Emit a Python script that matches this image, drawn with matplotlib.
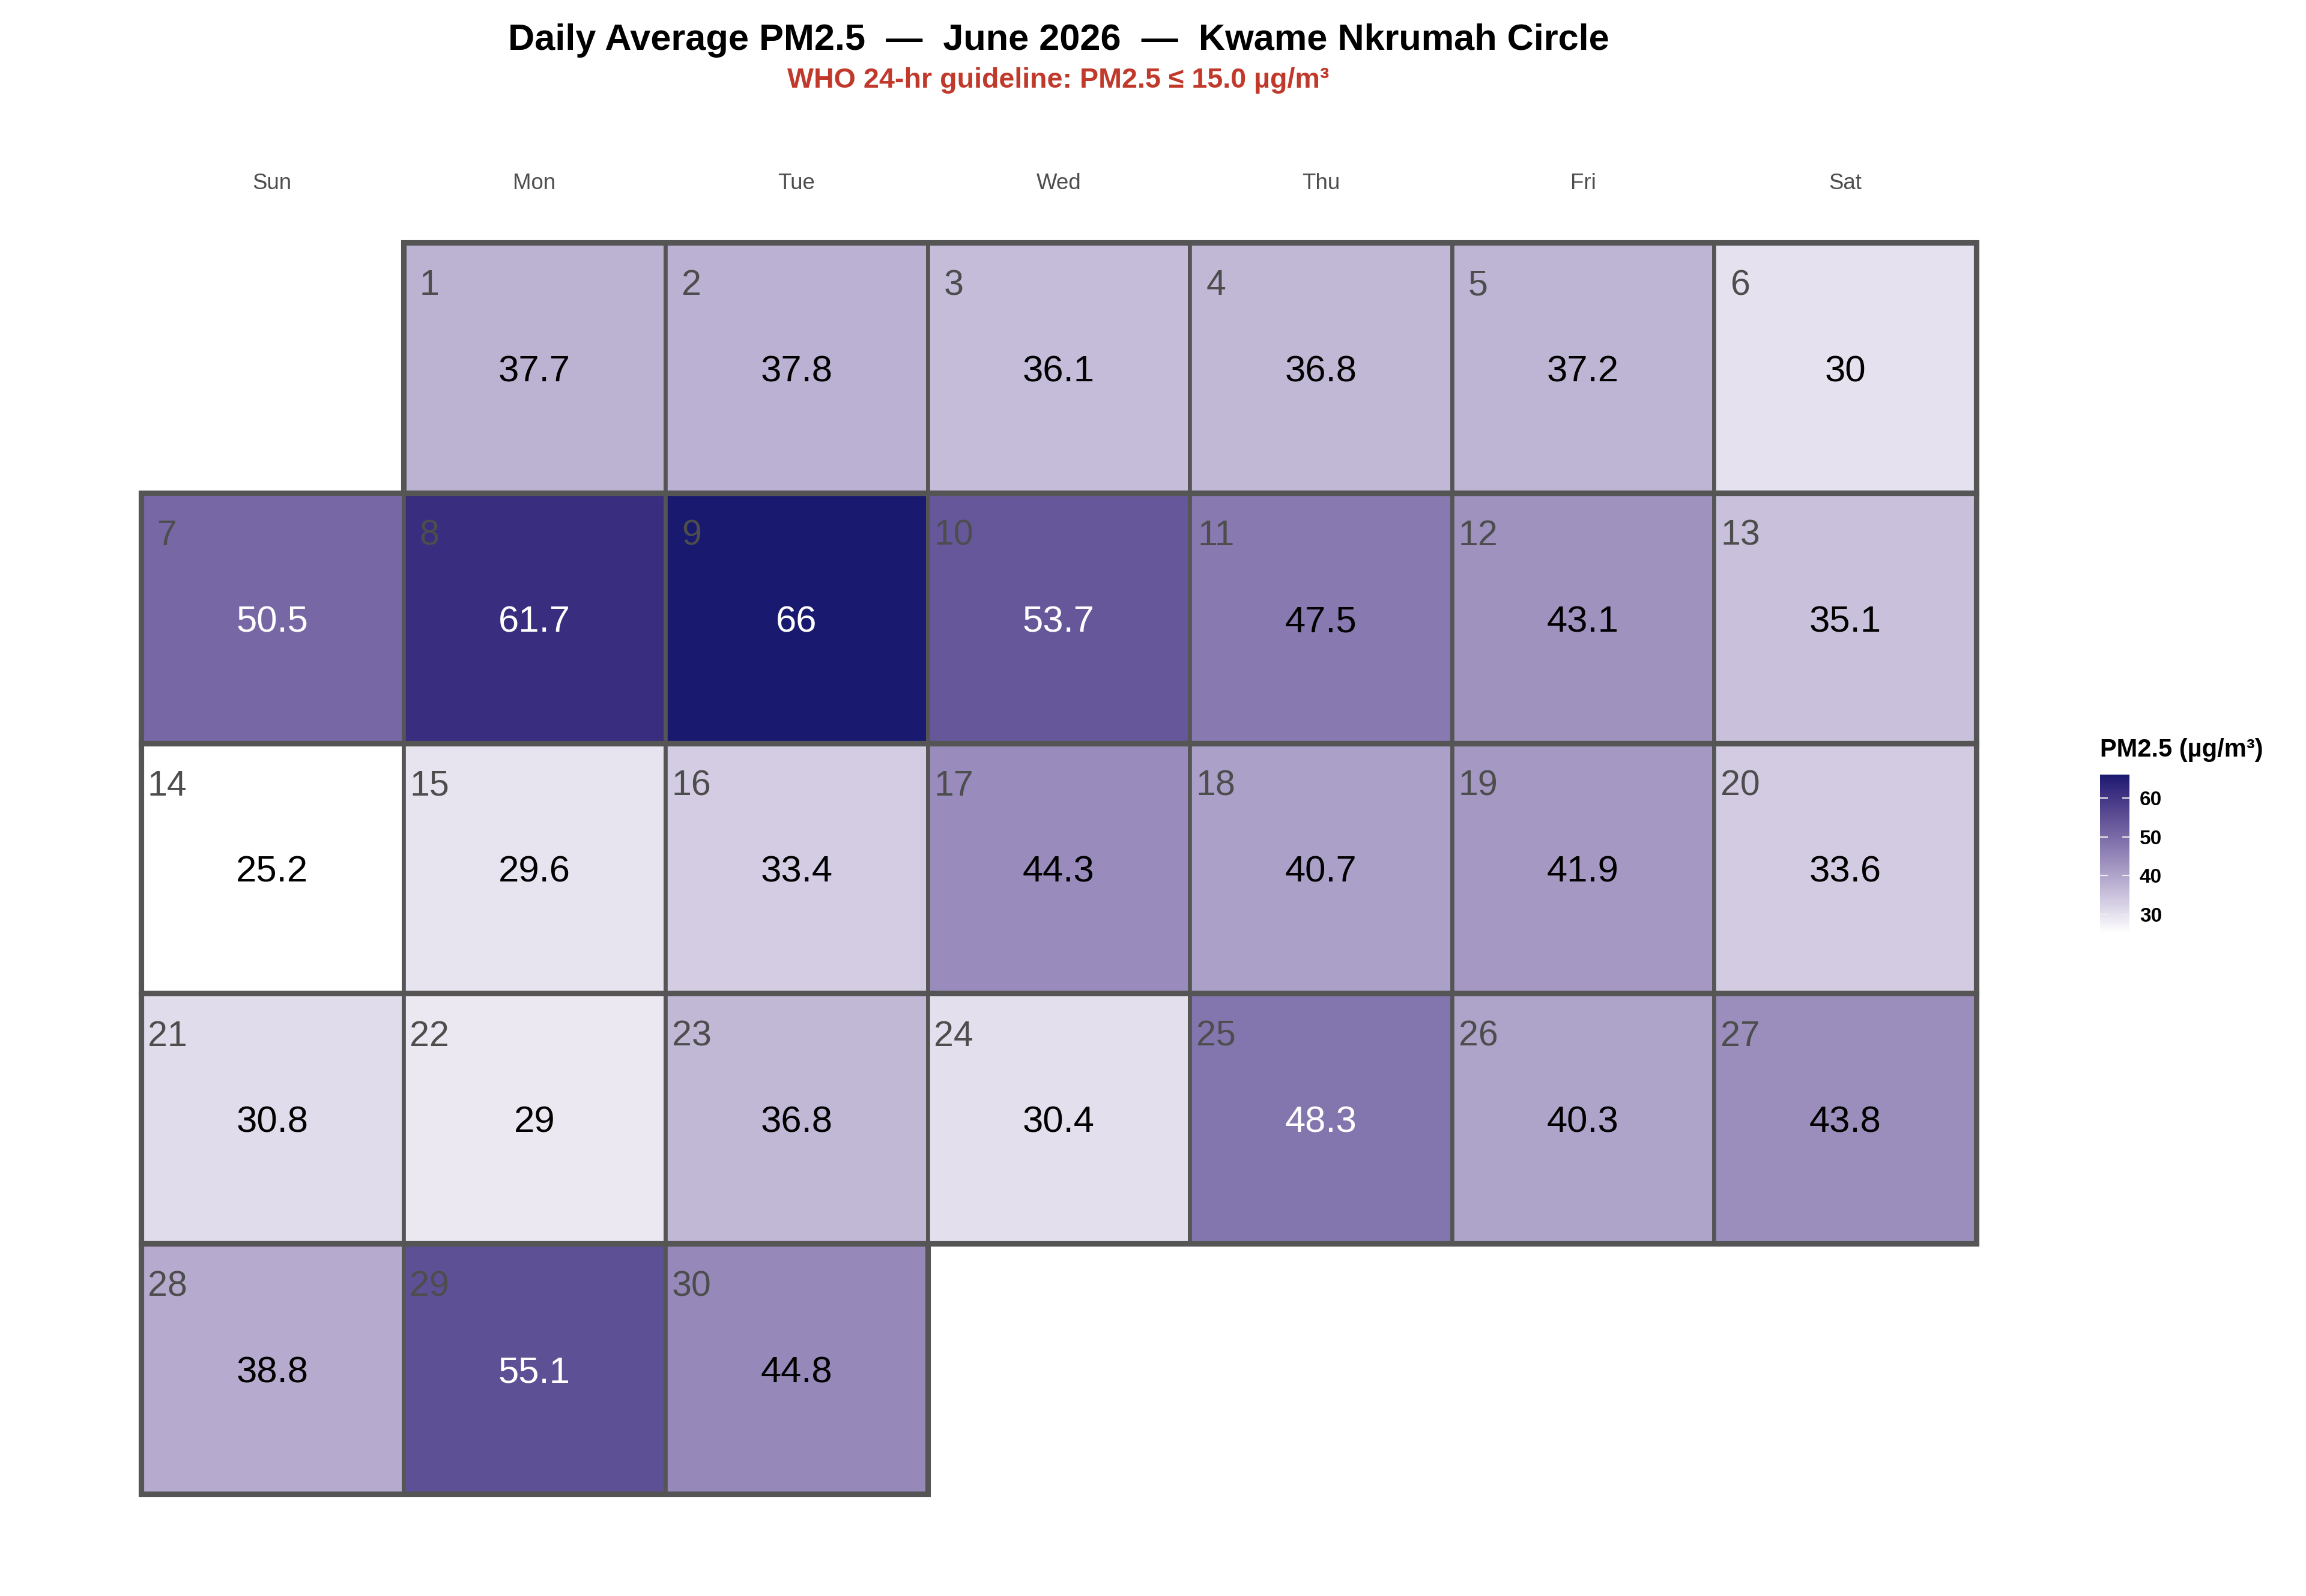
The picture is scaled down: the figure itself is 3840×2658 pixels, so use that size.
import calendar
import datetime
import numpy as np
import matplotlib
matplotlib.use("Agg")
import matplotlib.pyplot as plt
from matplotlib.colors import ListedColormap, Normalize
from matplotlib.patches import Rectangle
from matplotlib.cm import ScalarMappable

year, month = 2026, 6
day_names = ["Sun", "Mon", "Tue", "Wed", "Thu", "Fri", "Sat"]
pm25 = [37.7, 37.8, 36.1, 36.8, 37.2, 30, 50.5, 61.7, 66, 53.7,
        47.5, 43.1, 35.1, 25.2, 29.6, 33.4, 44.3, 40.7, 41.9, 33.6,
        30.8, 29, 36.8, 30.4, 48.3, 40.3, 43.8, 38.8, 55.1, 44.8]
who_limit = 15.0
cbar_ticks = [30, 40, 50, 60]
title = "Daily Average PM2.5  \u2014  June 2026  \u2014  Kwame Nkrumah Circle"
subtitle = f"WHO 24-hr guideline: PM2.5 \u2264 {who_limit:.1f} \u00b5g/m\u00b3"

plt.rcParams['font.family'] = ['Liberation Sans', 'DejaVu Sans']

# white -> midnight blue, interpolated in Lab like ggplot's gradient
M = np.array([[0.4124, 0.3576, 0.1805],
              [0.2126, 0.7152, 0.0722],
              [0.0193, 0.1192, 0.9505]])
WHITE = np.array([0.95047, 1.0, 1.08883])


def to_lab(hexcol):
    rgb = np.array(matplotlib.colors.to_rgb(hexcol))
    lin = np.where(rgb <= 0.04045, rgb / 12.92, ((rgb + 0.055) / 1.055) ** 2.4)
    xyz = M @ lin / WHITE
    f = np.where(xyz > 0.008856, np.cbrt(xyz), 7.787 * xyz + 16 / 116)
    return np.array([116 * f[1] - 16, 500 * (f[0] - f[1]), 200 * (f[1] - f[2])])


def from_lab(lab):
    fy = (lab[:, 0] + 16) / 116
    f = np.stack([fy + lab[:, 1] / 500, fy, fy - lab[:, 2] / 200], axis=1)
    xyz = np.where(f > 0.2069, f ** 3, (f - 16 / 116) / 7.787) * WHITE
    lin = xyz @ np.linalg.inv(M).T
    lin = np.clip(lin, 0, 1)
    rgb = np.where(lin <= 0.0031308, lin * 12.92, 1.055 * lin ** (1 / 2.4) - 0.055)
    return np.clip(rgb, 0, 1)


t = np.linspace(0, 1, 256)[:, None]
lab = (1 - t) * to_lab("#FFFFFF") + t * to_lab("#191970")
cmap = ListedColormap(from_lab(lab))
norm = Normalize(min(pm25), max(pm25))

# calendar positions (Sunday first)
first_wd = (datetime.date(year, month, 1).weekday() + 1) % 7
ndays = calendar.monthrange(year, month)[1]
days = np.arange(1, ndays + 1)
col = (days - 1 + first_wd) % 7
row = (days - 1 + first_wd) // 7
vals = np.array(pm25)

fig = plt.figure(figsize=(12.8, 8.86), dpi=300)
ax = fig.add_axes([0.0612, 0.064, 0.7958, 0.784])

ax.bar(col + 0.5, 1, width=1, bottom=row, color=cmap(norm(vals)),
       edgecolor="#555555", linewidth=1.6, zorder=2)

# thicker outline around each week
for r in np.unique(row):
    c = col[row == r]
    ax.add_patch(Rectangle((c.min(), r), c.max() - c.min() + 1, 1, fill=False,
                           edgecolor="#555555", linewidth=2.2, zorder=3,
                           clip_on=False))

for d, c, r, v in zip(days, col, row, vals):
    ax.text(c + 0.1, r + 0.172, str(d), ha="center", va="center",
            fontsize=14.2, color="#4D4D4D", zorder=4)
    ax.text(c + 0.5, r + 0.518, f"{v:g}", ha="center", va="center",
            fontsize=14.8, color="white" if v >= 48 else "black", zorder=4)

for i, name in enumerate(day_names):
    ax.text(i + 0.5, -0.237, name, ha="center", va="center", fontsize=8.8,
            color="#4D4D4D", clip_on=False)

ax.set_xlim(0, 7)
ax.set_ylim(row.max() + 1, 0)
ax.axis("off")

fig.text(0.459, 0.9745, title, ha="center", va="center", fontsize=14.7,
         fontweight="bold", color="black")
fig.text(0.459, 0.9495, subtitle, ha="center", va="center", fontsize=11.2,
         fontweight="bold", color="#C0392B")

cax = fig.add_axes([0.9107, 0.4153, 0.0128, 0.0993])
cb = fig.colorbar(ScalarMappable(norm=norm, cmap=cmap), cax=cax, ticks=cbar_ticks)
cb.outline.set_visible(False)
cax.tick_params(left=True, right=True, direction="in", length=3, width=0.5,
                color="#EEEEEE", labelsize=8, pad=4)
for lbl in cax.get_yticklabels():
    lbl.set_fontweight("bold")
cax.text(0, 1.08, "PM2.5 (\u00b5g/m\u00b3)", transform=cax.transAxes,
         ha="left", va="bottom", fontsize=10, fontweight="bold")

fig.savefig("out.png", dpi=300, facecolor="white")
